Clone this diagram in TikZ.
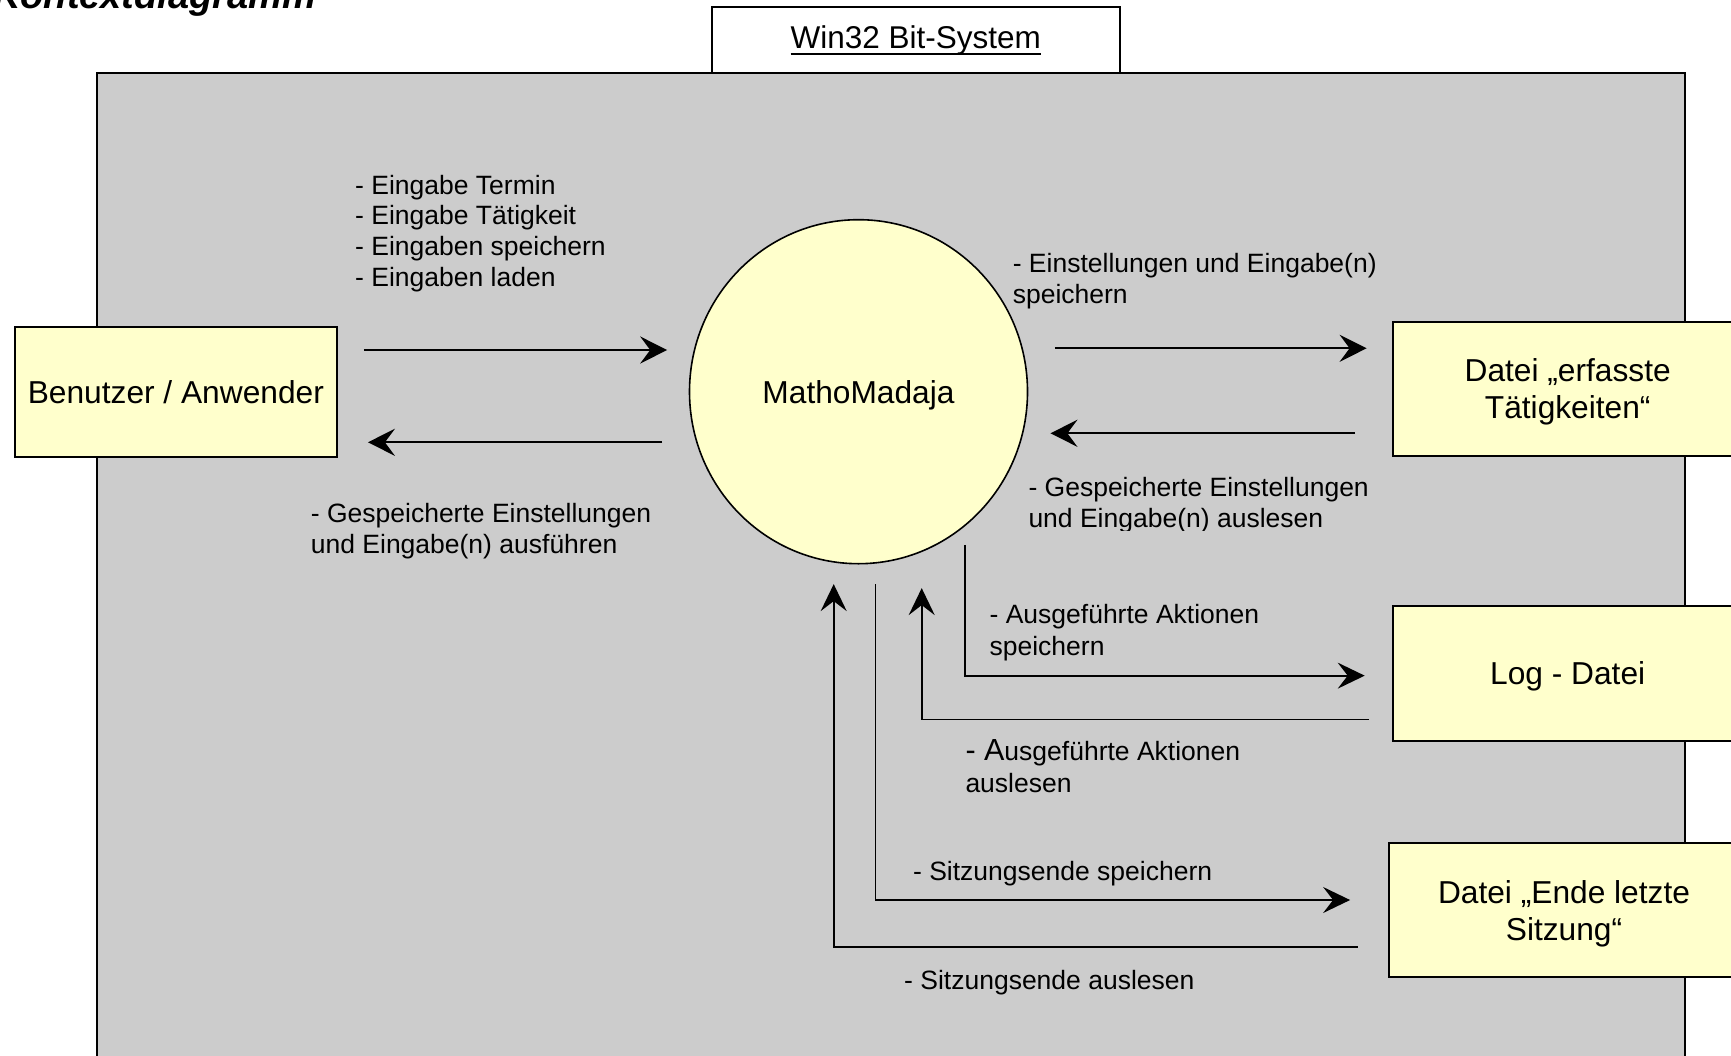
\documentclass[tikz,border=0pt]{standalone}
\usepackage{fontspec}
\setmainfont{Liberation Sans}
\usetikzlibrary{arrows.meta,shapes.geometric,calc}
\newsavebox\myulbox
\newcommand\myul[1]{\sbox\myulbox{#1}\rlap{\rule[-6pt]{\wd\myulbox}{2pt}}\usebox\myulbox}
\definecolor{bggray}{HTML}{CCCCCC}
\definecolor{boxyellow}{HTML}{FFFFCC}
\begin{document}
\begin{tikzpicture}[x=1pt,y=-1pt,
  lbl/.style={anchor=base west, inner sep=0pt, font={\fontsize{26.5}{30.8}\selectfont}},
  lblwide/.style={anchor=base west, inner sep=0pt, font={\fontsize{26.5}{32}\selectfont}},
  ent/.style={draw=black, line width=1.8pt, fill=boxyellow, rectangle, inner sep=0pt,
    font={\fontsize{31.7}{37}\selectfont}, text height=22.7pt, text depth=0pt},
  arr/.style={line width=2pt, -{Stealth[length=27pt,width=27pt,inset=10pt]}},
  arrthin/.style={line width=1.7pt, -{Stealth[length=27pt,width=26pt,inset=10pt]}}]
\useasboundingbox (0,0) rectangle (1731,1055);
\fill[white] (0,0) rectangle (1731,1055);

% system boundary
\draw[line width=1.8pt, fill=bggray] (97.3,73.3) rectangle (1685,1120);
\node[draw, line width=1.8pt, fill=white, minimum width=408.3pt, minimum height=66pt,
  inner sep=0pt, text height=22.7pt, text depth=6.3pt, font={\fontsize{31.5}{37}\selectfont}]
  (sys) at (915.85,40.3) {\myul{Win32 Bit-System}};

% title (cut off at the top edge, as in the original)
\node[anchor=base west, inner sep=0pt, font={\bfseries\itshape\fontsize{38}{40}\selectfont}]
  (title) at (-7,8.5) {Kontextdiagramm};

% entities
\node[ent, minimum width=322.3pt, minimum height=130.6pt] (user) at (175.85,392) {Benutzer / Anwender};
\node[ellipse, draw=black, line width=1.6pt, fill=boxyellow, minimum width=338pt, minimum height=344pt,
  inner sep=0pt, font={\fontsize{31.7}{37}\selectfont}, text height=22.7pt, text depth=0pt]
  (app) at (858.5,391.7) {MathoMadaja};
\node[ent, minimum width=350pt, minimum height=134pt, text depth=37pt] (erf) at (1567.7,388.7)
  {\begin{tabular}[t]{@{}c@{}}Datei „erfasste\\Tätigkeiten“\end{tabular}};
\node[ent, minimum width=350pt, minimum height=134.7pt] (log) at (1567.7,673.35) {Log - Datei};
\node[ent, minimum width=349.4pt, minimum height=134pt, text depth=37pt] (ende) at (1564,910.3)
  {\begin{tabular}[t]{@{}c@{}}Datei „Ende letzte\\Sitzung“\end{tabular}};

% upper connectors
\draw[arr] ($(user.east)+(26,-42)$) -- ($(app.west)+(-21.5,-41.7)$);
\draw[arr] ($(app.west)+(-26.5,50.6)$) -- ($(user.east)+(30,50.3)$);
\draw[arr] ($(app.east)+(26.5,-43.4)$) -- ($(erf.west)+(-25.2,-40.4)$);
\draw[arr] ($(erf.west)+(-36.7,44.6)$) -- ($(app.east)+(22.1,41.6)$);

% lower connectors
\draw[arrthin] ($(app.south)+(106.8,-19.7)$) |- ($(log.west)+(-27.1,2.3)$);
\draw[arrthin] ($(log.west)+(-22.7,46)$) -| ($(app.south)+(63.2,23.6)$);
\draw[arrthin] ($(app.south)+(16.9,19.6)$) |- ($(ende.west)+(-38.3,-10.3)$);
\draw[arrthin] ($(ende.west)+(-30.6,36.4)$) -| ($(app.south)+(-24.8,19.6)$);

% labels
\node[lbl] (l1) at (355,194) {\begin{tabular}[t]{@{}l@{}}- Eingabe Termin\\- Eingabe Tätigkeit\\- Eingaben speichern\\- Eingaben laden\end{tabular}};
\node[lbl] (l2) at (310.7,522.3) {\begin{tabular}[t]{@{}l@{}}- Gespeicherte Einstellungen\\und Eingabe(n) ausführen\end{tabular}};
\node[lbl] (l3) at (1012.6,272.7) {\begin{tabular}[t]{@{}l@{}}- Einstellungen und Eingabe(n)\\speichern\end{tabular}};
\begin{scope}
\clip (1000,465) rectangle (1400,530.7);
\node[lbl] (l4) at (1028.3,496.7) {\begin{tabular}[t]{@{}l@{}}- Gespeicherte Einstellungen\\und Eingabe(n) auslesen\end{tabular}};
\end{scope}
\node[lblwide] (l5) at (989.4,623) {\begin{tabular}[t]{@{}l@{}}- Ausgeführte Aktionen\\speichern\end{tabular}};
\node[lblwide] (l6) at (965.3,760) {\begin{tabular}[t]{@{}l@{}}{\fontsize{30.5}{32}\selectfont - A}usgeführte Aktionen\\auslesen\end{tabular}};
\node[lbl] (l7) at (912.9,880.7) {- Sitzungsende speichern};
\node[lbl] (l8) at (904,989.3) {- Sitzungsende auslesen};
\end{tikzpicture}
\end{document}
